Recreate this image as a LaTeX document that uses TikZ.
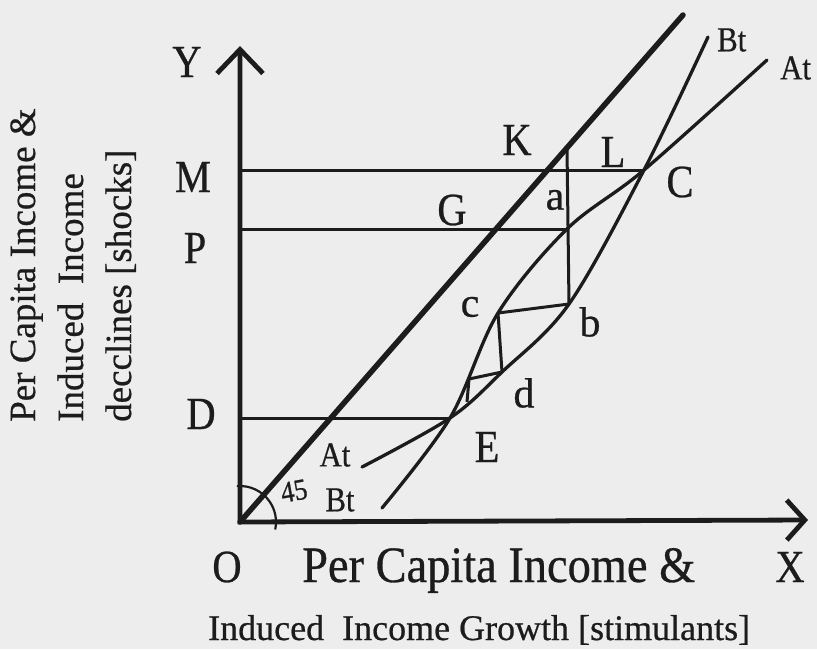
\documentclass[tikz,border=0pt]{standalone}
\usepackage{fontspec}
\setmainfont[FakeBold=0.6]{Liberation Serif}
\newfontfamily\cond[FakeStretch=0.88,FakeBold=0.6]{Liberation Serif}
\newfontfamily\condb[FakeStretch=0.91,FakeBold=0.6]{Liberation Serif}
\usetikzlibrary{arrows.meta}
\definecolor{bg}{RGB}{237,237,237}
\definecolor{ink}{RGB}{28,28,28}
\tikzset{
 axis/.style={ink, line width=4.8pt, line join=miter,
   {Straight Barb[length=24pt,width=46pt]}-{Straight Barb[length=18pt,width=40pt]}},
 diag/.style={ink, line width=5.5pt, line cap=round},
 guide/.style={ink, line width=3pt},
 curve/.style={ink, line width=3.3pt, line cap=round},
 web/.style={ink, line width=3pt, line join=round},
 lbl/.style={ink, inner sep=0pt, font=\cond\fontsize{46}{50}\selectfont},
 small/.style={ink, inner sep=0pt, font=\fontsize{42}{46}\selectfont},
 tag/.style={ink, inner sep=0pt, font=\cond\fontsize{35}{38}\selectfont},
 ytext/.style={ink, inner sep=0pt, rotate=90, anchor=base west, font=\fontsize{37}{40}\selectfont},
 xtext/.style={ink, inner sep=0pt, anchor=base west},
}
\begin{document}
\begin{tikzpicture}[x=1pt,y=-1pt]
\path[fill=bg] (0,0) rectangle (817,649);
% key points
\coordinate (O) at (240,522);
\coordinate (Ytop) at (240,46);
\coordinate (Xend) at (808,520);
\coordinate (Mo) at (240,170);
\coordinate (Po) at (240,229);
\coordinate (Do) at (240,418);
\coordinate (Dtop) at (683,15);
\coordinate (T) at (567,148);
\coordinate (C) at (644,170);
\coordinate (a) at (567,229);
\coordinate (b) at (569,304);
\coordinate (c) at (498,313);
\coordinate (d) at (502,372);
\coordinate (e1) at (469,379);
\coordinate (e2) at (467,402);
\coordinate (E) at (450,418);
\coordinate (A1) at (362,467);
\coordinate (B1) at (382,508);
\coordinate (A2) at (767,60);
\coordinate (B2) at (708,37);
% axes
\draw[axis] (Ytop) -- (O) -- (Xend);
% 45 degree line
\draw[diag] (O) -- (Dtop);
% guide lines
\draw[guide] (Mo) -- (C);
\draw[guide] (Po) -- (a);
\draw[guide] (Do) -- (E);
% curves
\draw[curve] plot[smooth, tension=0.55] coordinates {(A1) (E) (d) (b) (C) (B2)};
\draw[curve] plot[smooth, tension=0.55] coordinates {(B1) (E) (c) (a) (C) (A2)};
% cobweb
\draw[web] (T) -- (b) -- (c) -- (d) -- (e1) -- (e2);
% angle arc
\draw[ink, line width=2.2pt] (O) ++(95:36pt) arc[start angle=95, end angle=-12, radius=36pt];
% labels
\node[lbl] (Ylab) at (187,62) {Y};
\node[lbl] (Mlab) at (193,177) {M};
\node[lbl] (Plab) at (195,248) {P};
\node[lbl] (Dlab) at (201,414) {D};
\node[lbl] (Glab) at (452,210) {G};
\node[lbl] (Klab) at (517,140) {K};
\node[lbl] (Llab) at (613,152) {L};
\node[lbl] (Clab) at (680,182) {C};
\node[lbl] (Elab) at (487,447) {E};
\node[lbl] (Olab) at (227,567) {O};
\node[lbl] (Xlab) at (790,567) {X};
\node[small] (alab) at (555,200) {a};
\node[small] (clab) at (470,307) {c};
\node[small] (blab) at (590,322) {b};
\node[small] (dlab) at (524,393) {d};
\node[tag, anchor=west] (Bt2) at (717,40) {Bt};
\node[tag, anchor=west] (At2) at (780,68) {At};
\node[tag] (At1) at (335,455) {At};
\node[tag] (Bt1) at (340,500) {Bt};
\node[ink, inner sep=0pt, font=\cond\fontsize{30}{32}\selectfont, rotate=10] (ang) at (294,491) {45};
% axis titles
\node[xtext, font=\condb\fontsize{51}{56}\selectfont] (xt1) at (302,582) {Per Capita Income \&};
\node[xtext, font=\fontsize{36}{40}\selectfont] (xt2) at (208,640) {Induced \ Income Growth [stimulants]};
\node[ytext] (yt1) at (35,422) {Per Capita Income \&};
\node[ytext] (yt2) at (83,422) {Induced \ Income};
\node[ytext] (yt3) at (131,422) {decclines [shocks]};
\end{tikzpicture}
\end{document}
